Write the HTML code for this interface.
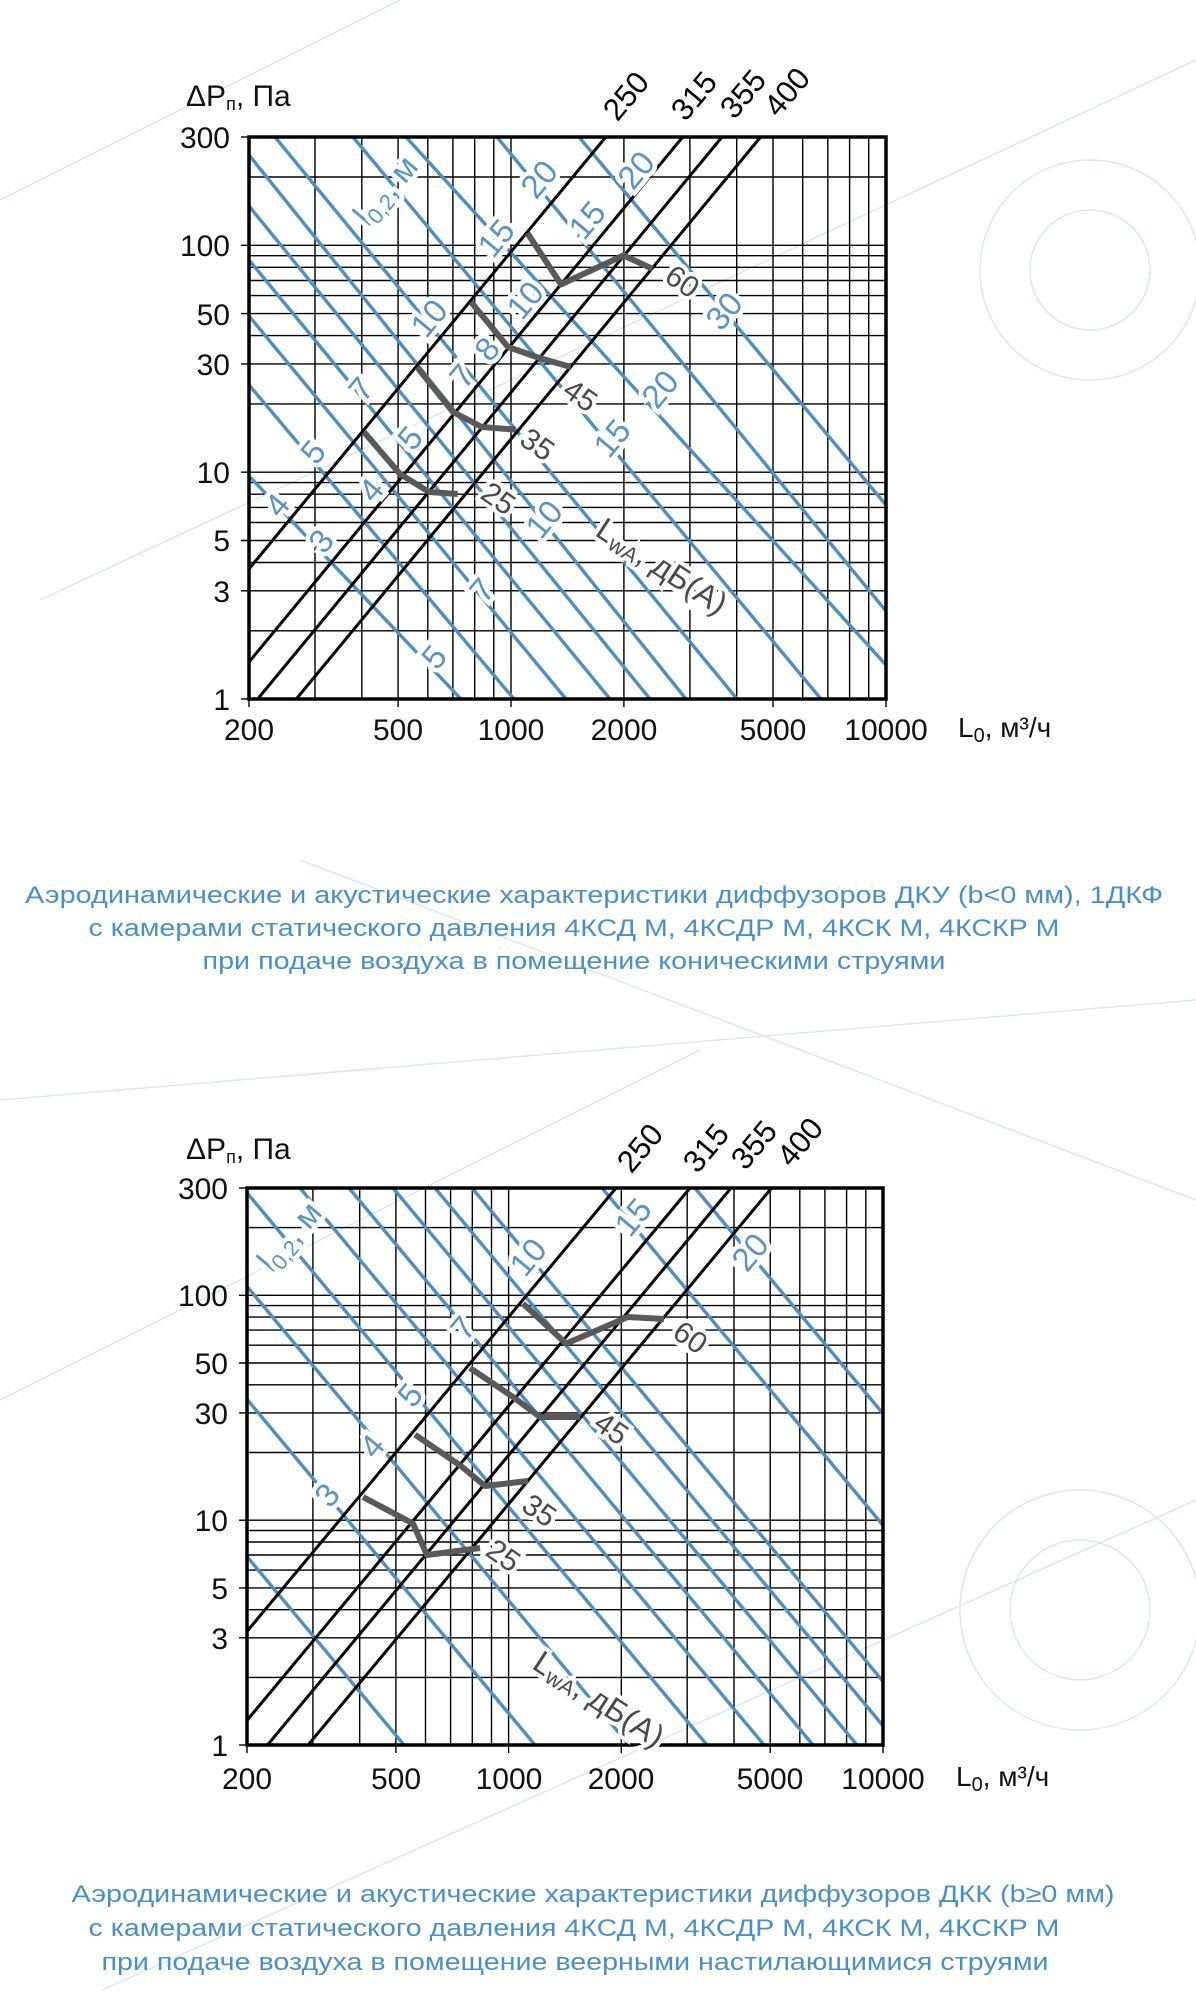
<!DOCTYPE html>
<html><head><meta charset="utf-8">
<style>
html,body{margin:0;padding:0;background:#fff;}
svg{display:block;}
.g{stroke:#000;stroke-width:1.4;fill:none}
.f{stroke:#000;stroke-width:3.5;fill:none}
.k{stroke:#000;stroke-width:3;fill:none}
.b{stroke:#4f8fc0;stroke-width:3.4;fill:none}
.c{stroke:#595959;stroke-width:6;fill:none;stroke-linejoin:round}
.t{font-family:"Liberation Sans",sans-serif;font-size:30px;fill:#111}
.bl{font-family:"Liberation Sans",sans-serif;font-size:33px;fill:#5b93c4;stroke:#fff;stroke-width:9;paint-order:stroke;text-anchor:middle;dominant-baseline:central}
.gl{font-family:"Liberation Sans",sans-serif;font-size:30px;fill:#4a4a4a;stroke:#fff;stroke-width:8;paint-order:stroke;text-anchor:middle;dominant-baseline:central}
.kl{font-family:"Liberation Sans",sans-serif;font-size:31px;fill:#000;text-anchor:middle;dominant-baseline:central}
.cap{font-family:"Liberation Sans",sans-serif;font-size:24px;fill:#4a90c8;text-anchor:middle}
.bg{stroke:#dbe8f3;stroke-width:1.5;fill:none}
</style></head><body>
<svg width="1196" height="1991" viewBox="0 0 1196 1991" xmlns="http://www.w3.org/2000/svg">
<defs>
<clipPath id="c1"><rect x="249" y="137" width="637" height="562"/></clipPath>
<clipPath id="c2"><rect x="247" y="1188" width="636" height="557"/></clipPath>
</defs>
<g class="bg">
<circle cx="1090" cy="270" r="110"/><circle cx="1090" cy="270" r="60"/>
<circle cx="1080" cy="1610" r="120"/><circle cx="1080" cy="1610" r="70"/>
<line x1="0" y1="200" x2="400" y2="0"/><line x1="40" y1="600" x2="1196" y2="60"/>
<line x1="0" y1="1100" x2="1196" y2="1000"/><line x1="0" y1="1400" x2="700" y2="1050"/>
<line x1="100" y1="1991" x2="1196" y2="1500"/><line x1="300" y1="860" x2="1196" y2="1200"/>
</g>

<!-- ================= CHART 1 ================= -->
<g class="g">
<line x1="315" y1="137" x2="315" y2="699"/><line x1="361.8" y1="137" x2="361.8" y2="699"/>
<line x1="398.1" y1="137" x2="398.1" y2="707"/><line x1="427.8" y1="137" x2="427.8" y2="699"/>
<line x1="452.9" y1="137" x2="452.9" y2="699"/><line x1="474.7" y1="137" x2="474.7" y2="699"/>
<line x1="493.8" y1="137" x2="493.8" y2="699"/><line x1="511" y1="137" x2="511" y2="707"/>
<line x1="623.9" y1="137" x2="623.9" y2="707"/><line x1="689.9" y1="137" x2="689.9" y2="699"/>
<line x1="736.7" y1="137" x2="736.7" y2="699"/><line x1="773" y1="137" x2="773" y2="707"/>
<line x1="802.7" y1="137" x2="802.7" y2="699"/><line x1="827.8" y1="137" x2="827.8" y2="699"/>
<line x1="849.6" y1="137" x2="849.6" y2="699"/><line x1="868.7" y1="137" x2="868.7" y2="699"/>
<line x1="249" y1="630.8" x2="886" y2="630.8"/><line x1="241" y1="590.8" x2="886" y2="590.8"/>
<line x1="249" y1="562.5" x2="886" y2="562.5"/><line x1="241" y1="540.5" x2="886" y2="540.5"/>
<line x1="249" y1="522.5" x2="886" y2="522.5"/><line x1="249" y1="507.4" x2="886" y2="507.4"/>
<line x1="249" y1="494.2" x2="886" y2="494.2"/><line x1="249" y1="482.6" x2="886" y2="482.6"/>
<line x1="241" y1="472.2" x2="886" y2="472.2"/><line x1="249" y1="403.9" x2="886" y2="403.9"/>
<line x1="241" y1="363.9" x2="886" y2="363.9"/><line x1="249" y1="335.6" x2="886" y2="335.6"/>
<line x1="241" y1="313.6" x2="886" y2="313.6"/><line x1="249" y1="295.6" x2="886" y2="295.6"/>
<line x1="249" y1="280.5" x2="886" y2="280.5"/><line x1="249" y1="267.3" x2="886" y2="267.3"/>
<line x1="249" y1="255.7" x2="886" y2="255.7"/><line x1="241" y1="245.3" x2="886" y2="245.3"/>
<line x1="249" y1="177" x2="886" y2="177"/>
<line x1="241" y1="137" x2="249" y2="137"/><line x1="241" y1="699" x2="249" y2="699"/>
<line x1="249" y1="699" x2="249" y2="707"/><line x1="886" y1="699" x2="886" y2="707"/>
</g>
<g class="b" clip-path="url(#c1)">
<line x1="249" y1="476" x2="461" y2="699"/>
<line x1="249" y1="385" x2="514" y2="699"/>
<line x1="249" y1="316" x2="566" y2="699"/>
<line x1="249" y1="260" x2="610" y2="699"/>
<line x1="249" y1="206" x2="650" y2="699"/>
<line x1="249" y1="155" x2="686" y2="699"/>
<line x1="275" y1="137" x2="737" y2="699"/>
<line x1="353" y1="137" x2="821" y2="699"/>
<line x1="406" y1="137" x2="886" y2="665"/>
<line x1="497" y1="137" x2="886" y2="611"/>
<line x1="579" y1="137" x2="886" y2="505"/>
</g>
<g class="k" clip-path="url(#c1)">
<line x1="605.8" y1="137" x2="249" y2="568.9"/>
<line x1="682.7" y1="137" x2="249" y2="662"/>
<line x1="722" y1="137" x2="257.6" y2="699.1"/>
<line x1="760.6" y1="137" x2="296.2" y2="699.1"/>
</g>
<g class="c">
<polyline points="527.4,233 561,284.4 623.6,255.4 652.4,268.8"/>
<polyline points="471,302 508,347 539.5,358 570.7,367"/>
<polyline points="417,367 453,412 481.8,427 515.4,429.6"/>
<polyline points="364,432 400,474 429,492 457.7,494"/>
</g>
<rect class="f" x="249" y="137" width="637" height="562"/>
<g>
<text class="bl" transform="translate(385,190) rotate(-50)">l<tspan font-size="22" dy="9">0,2</tspan><tspan dy="-9">, м</tspan></text>
<text class="bl" transform="translate(539,179) rotate(-50)">20</text>
<text class="bl" transform="translate(496,238) rotate(-50)">15</text>
<text class="bl" transform="translate(429,318) rotate(-50)">10</text>
<text class="bl" transform="translate(361,389) rotate(-50)">7</text>
<text class="bl" transform="translate(313,452) rotate(-50)">5</text>
<text class="bl" transform="translate(277,505) rotate(-50)">4</text>
<text class="bl" transform="translate(636,170) rotate(-50)">20</text>
<text class="bl" transform="translate(587,220) rotate(-50)">15</text>
<text class="bl" transform="translate(525,300) rotate(-50)">10</text>
<text class="bl" transform="translate(487,349) rotate(-50)">8</text>
<text class="bl" transform="translate(462,376) rotate(-50)">7</text>
<text class="bl" transform="translate(410,438) rotate(-50)">5</text>
<text class="bl" transform="translate(371,490) rotate(-50)">4</text>
<text class="bl" transform="translate(321,541) rotate(-50)">3</text>
<text class="bl" transform="translate(724,311) rotate(-50)">30</text>
<text class="bl" transform="translate(660,389) rotate(-50)">20</text>
<text class="bl" transform="translate(612,438) rotate(-50)">15</text>
<text class="bl" transform="translate(544,519) rotate(-50)">10</text>
<text class="bl" transform="translate(482,590) rotate(-50)">7</text>
<text class="bl" transform="translate(434,657) rotate(-50)">5</text>
</g>
<g>
<text class="gl" transform="translate(682,282) rotate(35)">60</text>
<text class="gl" transform="translate(580,396) rotate(35)">45</text>
<text class="gl" transform="translate(537,445) rotate(35)">35</text>
<text class="gl" transform="translate(498,499) rotate(35)">25</text>
<text class="gl" style="font-size:32px" transform="translate(662,566) rotate(33)">L<tspan font-size="22" dy="7">wA</tspan><tspan dy="-7">, дБ(А)</tspan></text>
</g>
<g>
<text class="kl" transform="translate(626,96) rotate(-50)">250</text>
<text class="kl" transform="translate(694,96) rotate(-50)">315</text>
<text class="kl" transform="translate(743,94) rotate(-50)">355</text>
<text class="kl" transform="translate(787,92) rotate(-50)">400</text>
</g>
<g class="t">
<text x="186" y="106">ΔP<tspan font-size="18" dy="4">п</tspan><tspan dy="-4">, Па</tspan></text>
<g text-anchor="end">
<text x="230" y="148">300</text><text x="230" y="256">100</text>
<text x="230" y="325">50</text><text x="230" y="375">30</text>
<text x="230" y="483">10</text><text x="230" y="551">5</text>
<text x="230" y="602">3</text><text x="230" y="710">1</text>
</g>
<g text-anchor="middle">
<text x="249" y="740">200</text><text x="398" y="740">500</text>
<text x="511" y="740">1000</text><text x="624" y="740">2000</text>
<text x="773" y="740">5000</text><text x="886" y="740">10000</text>
</g>
<text x="958" y="737" font-size="28">L<tspan font-size="20" dy="5">0</tspan><tspan dy="-5">, м³/ч</tspan></text>
</g>
<g class="cap">
<text x="594" y="903" textLength="1138" lengthAdjust="spacingAndGlyphs">Аэродинамические и акустические характеристики диффузоров ДКУ (b&lt;0 мм), 1ДКФ</text>
<text x="574" y="936" textLength="971" lengthAdjust="spacingAndGlyphs">с камерами статического давления 4КСД М, 4КСДР М, 4КСК М, 4КСКР М</text>
<text x="574" y="969" textLength="743" lengthAdjust="spacingAndGlyphs">при подаче воздуха в помещение коническими струями</text>
</g>

<!-- ================= CHART 2 ================= -->
<g class="g">
<line x1="312.9" y1="1188" x2="312.9" y2="1745"/><line x1="359.7" y1="1188" x2="359.7" y2="1745"/>
<line x1="395.9" y1="1188" x2="395.9" y2="1753"/><line x1="425.5" y1="1188" x2="425.5" y2="1745"/>
<line x1="450.6" y1="1188" x2="450.6" y2="1745"/><line x1="472.3" y1="1188" x2="472.3" y2="1745"/>
<line x1="491.5" y1="1188" x2="491.5" y2="1745"/><line x1="508.6" y1="1188" x2="508.6" y2="1753"/>
<line x1="621.3" y1="1188" x2="621.3" y2="1753"/><line x1="687.2" y1="1188" x2="687.2" y2="1745"/>
<line x1="734" y1="1188" x2="734" y2="1745"/><line x1="770.2" y1="1188" x2="770.2" y2="1753"/>
<line x1="799.8" y1="1188" x2="799.8" y2="1745"/><line x1="824.9" y1="1188" x2="824.9" y2="1745"/>
<line x1="846.6" y1="1188" x2="846.6" y2="1745"/><line x1="865.8" y1="1188" x2="865.8" y2="1745"/>
<line x1="247" y1="1677.4" x2="883" y2="1677.4"/><line x1="239" y1="1637.8" x2="883" y2="1637.8"/>
<line x1="247" y1="1609.7" x2="883" y2="1609.7"/><line x1="239" y1="1587.9" x2="883" y2="1587.9"/>
<line x1="247" y1="1570.1" x2="883" y2="1570.1"/><line x1="247" y1="1555" x2="883" y2="1555"/>
<line x1="247" y1="1542" x2="883" y2="1542"/><line x1="247" y1="1530.5" x2="883" y2="1530.5"/>
<line x1="239" y1="1520.2" x2="883" y2="1520.2"/><line x1="247" y1="1452.5" x2="883" y2="1452.5"/>
<line x1="239" y1="1412.9" x2="883" y2="1412.9"/><line x1="247" y1="1384.8" x2="883" y2="1384.8"/>
<line x1="239" y1="1363" x2="883" y2="1363"/><line x1="247" y1="1345.2" x2="883" y2="1345.2"/>
<line x1="247" y1="1330.1" x2="883" y2="1330.1"/><line x1="247" y1="1317.1" x2="883" y2="1317.1"/>
<line x1="247" y1="1305.6" x2="883" y2="1305.6"/><line x1="239" y1="1295.3" x2="883" y2="1295.3"/>
<line x1="247" y1="1227.6" x2="883" y2="1227.6"/>
<line x1="239" y1="1188" x2="247" y2="1188"/><line x1="239" y1="1745" x2="247" y2="1745"/>
<line x1="247" y1="1745" x2="247" y2="1753"/><line x1="883" y1="1745" x2="883" y2="1753"/>
</g>
<g class="b" clip-path="url(#c2)">
<line x1="404" y1="1745" x2="-60" y2="1188"/>
<line x1="535" y1="1745" x2="71" y2="1188"/>
<line x1="629" y1="1745" x2="165" y2="1188"/>
<line x1="707" y1="1745" x2="243" y2="1188"/>
<line x1="764" y1="1745" x2="300" y2="1188"/>
<line x1="813" y1="1745" x2="349" y2="1188"/>
<line x1="857" y1="1745" x2="393" y2="1188"/>
<line x1="899" y1="1745" x2="435" y2="1188"/>
<line x1="936" y1="1745" x2="472" y2="1188"/>
<line x1="1066" y1="1745" x2="602" y2="1188"/>
<line x1="1159" y1="1745" x2="695" y2="1188"/>
</g>
<g class="k" clip-path="url(#c2)">
<line x1="616" y1="1188" x2="247" y2="1631.4"/>
<line x1="690" y1="1188" x2="247" y2="1720.4"/>
<line x1="731" y1="1188" x2="267.4" y2="1745.1"/>
<line x1="771.6" y1="1188" x2="308" y2="1745.1"/>
</g>
<g class="c">
<polyline points="523,1303.6 566,1343.6 628,1317 664,1319"/>
<polyline points="470,1368 513,1397 540,1417 580,1417"/>
<polyline points="415,1434.7 461,1466 485,1486 528,1481"/>
<polyline points="363,1497 413,1523.6 427,1555 480,1548"/>
</g>
<rect class="f" x="247" y="1188" width="636" height="557"/>
<g>
<text class="bl" transform="translate(289,1236) rotate(-50)">l<tspan font-size="22" dy="9">0,2</tspan><tspan dy="-9">, м</tspan></text>
<text class="bl" transform="translate(528,1257) rotate(-50)">10</text>
<text class="bl" transform="translate(633,1217) rotate(-50)">15</text>
<text class="bl" transform="translate(750,1252) rotate(-50)">20</text>
<text class="bl" transform="translate(463,1328) rotate(-50)">7</text>
<text class="bl" transform="translate(410,1395) rotate(-50)">5</text>
<text class="bl" transform="translate(372,1446) rotate(-50)">4</text>
<text class="bl" transform="translate(327,1495) rotate(-50)">3</text>
</g>
<g>
<text class="gl" transform="translate(690,1338) rotate(35)">60</text>
<text class="gl" transform="translate(611,1429) rotate(35)">45</text>
<text class="gl" transform="translate(539,1511) rotate(35)">35</text>
<text class="gl" transform="translate(503,1556) rotate(35)">25</text>
<text class="gl" style="font-size:32px" transform="translate(599,1699) rotate(33)">L<tspan font-size="22" dy="7">wA</tspan><tspan dy="-7">, дБ(А)</tspan></text>
</g>
<g>
<text class="kl" transform="translate(640,1148) rotate(-50)">250</text>
<text class="kl" transform="translate(706,1148) rotate(-50)">315</text>
<text class="kl" transform="translate(754,1145) rotate(-50)">355</text>
<text class="kl" transform="translate(800,1142) rotate(-50)">400</text>
</g>
<g class="t">
<text x="186" y="1159">ΔP<tspan font-size="18" dy="4">п</tspan><tspan dy="-4">, Па</tspan></text>
<g text-anchor="end">
<text x="228" y="1199">300</text><text x="228" y="1306">100</text>
<text x="228" y="1374">50</text><text x="228" y="1424">30</text>
<text x="228" y="1531">10</text><text x="228" y="1599">5</text>
<text x="228" y="1649">3</text><text x="228" y="1756">1</text>
</g>
<g text-anchor="middle">
<text x="247" y="1789">200</text><text x="396" y="1789">500</text>
<text x="509" y="1789">1000</text><text x="621" y="1789">2000</text>
<text x="770" y="1789">5000</text><text x="883" y="1789">10000</text>
</g>
<text x="956" y="1786" font-size="28">L<tspan font-size="20" dy="5">0</tspan><tspan dy="-5">, м³/ч</tspan></text>
</g>
<g class="cap">
<text x="593" y="1902" textLength="1043" lengthAdjust="spacingAndGlyphs">Аэродинамические и акустические характеристики диффузоров ДКК (b≥0 мм)</text>
<text x="574" y="1936" textLength="971" lengthAdjust="spacingAndGlyphs">с камерами статического давления 4КСД М, 4КСДР М, 4КСК М, 4КСКР М</text>
<text x="575" y="1970" textLength="947" lengthAdjust="spacingAndGlyphs">при подаче воздуха в помещение веерными настилающимися струями</text>
</g>
</svg>
</body></html>
